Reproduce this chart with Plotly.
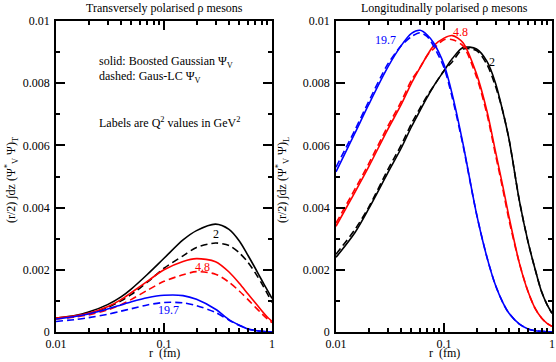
import plotly.graph_objects as go

# ---------------- data ----------------
r_T = [0.01, 0.015, 0.02, 0.03, 0.04, 0.05, 0.07, 0.1, 0.15, 0.2, 0.3, 0.4, 0.5, 0.6, 0.7, 0.8, 0.9, 1.0]

T_q2_solid = [0.00045, 0.00053, 0.00064, 0.00088, 0.00113, 0.00139, 0.00185, 0.00237, 0.00296, 0.00326,
              0.00347, 0.00330, 0.00292, 0.00246, 0.00205, 0.00168, 0.00136, 0.00108]
T_q2_dashed = [0.00043, 0.00050, 0.00059, 0.00079, 0.00100, 0.00121, 0.00160, 0.00205, 0.00245, 0.00272,
               0.00286, 0.00278, 0.00254, 0.00224, 0.00190, 0.00157, 0.00125, 0.00095]
T_q48_solid = [0.00045, 0.00052, 0.00060, 0.00081, 0.00104, 0.00127, 0.00163, 0.00200, 0.00227, 0.00236,
               0.00226, 0.00193, 0.00156, 0.00122, 0.00094, 0.00069, 0.00049, 0.00034]
T_q48_dashed = [0.00042, 0.00048, 0.00055, 0.00071, 0.00088, 0.00105, 0.00134, 0.00163, 0.00184, 0.00194,
                0.00186, 0.00160, 0.00131, 0.00104, 0.00080, 0.00060, 0.00043, 0.00030]
T_q197_solid = [0.00042, 0.00050, 0.00058, 0.00074, 0.00087, 0.00097, 0.00110, 0.00118, 0.00117, 0.00105,
                0.00073, 0.00040, 0.00022, 0.00010, 0.00005, 0.00002, 0.00001, 0.0]
T_q197_dashed = [0.00034, 0.00040, 0.00046, 0.00057, 0.00067, 0.00075, 0.00087, 0.00095, 0.00094, 0.00085,
                 0.00063, 0.00038, 0.00021, 0.00010, 0.00005, 0.00002, 0.00001, 0.0]

r_L = [0.01, 0.015, 0.02, 0.03, 0.04, 0.05, 0.06, 0.07, 0.08, 0.1, 0.12, 0.15, 0.2, 0.25, 0.3, 0.35,
       0.4, 0.5, 0.6, 0.7, 0.8, 0.9, 1.0]

L_q2_solid = [0.0024, 0.0032, 0.00395, 0.0051, 0.0059, 0.0066, 0.00712, 0.00755, 0.0079, 0.0084, 0.0088,
              0.00915, 0.0091, 0.0087, 0.0080, 0.0071, 0.0062, 0.0042, 0.0029, 0.0020, 0.0013, 0.00088, 0.0006]
L_q2_dashed = [0.0025, 0.0033, 0.0040, 0.0052, 0.0060, 0.0067, 0.0072, 0.0076, 0.0079, 0.0084, 0.0087,
               0.0091, 0.00905, 0.0086, 0.0079, 0.0071, 0.0062, 0.0042, 0.0029, 0.0020, 0.0013, 0.00088, 0.0006]
L_q48_solid = [0.0034, 0.0045, 0.0053, 0.0065, 0.0073, 0.0080, 0.0085, 0.0089, 0.0092, 0.00945, 0.00953,
               0.0093, 0.0083, 0.0071, 0.0058, 0.0047, 0.0037, 0.0022, 0.0013, 0.00075, 0.00045, 0.00028, 0.00018]
L_q48_dashed = [0.0035, 0.0046, 0.0054, 0.0066, 0.0074, 0.0081, 0.0085, 0.0089, 0.0091, 0.0094, 0.0094,
                0.0092, 0.0082, 0.0070, 0.0057, 0.0046, 0.0036, 0.0022, 0.0013, 0.00075, 0.00045, 0.00028, 0.00018]
L_q197_solid = [0.00515, 0.0064, 0.0073, 0.0085, 0.0092, 0.0096, 0.0097, 0.00955, 0.0093, 0.0086, 0.0076,
                0.00605, 0.0038, 0.0024, 0.0015, 0.00095, 0.0006, 0.00025, 0.0001, 0.00004, 0.00002, 0.00001, 0.0]
L_q197_dashed = [0.0053, 0.0065, 0.0074, 0.0086, 0.0092, 0.0095, 0.00962, 0.0095, 0.0092, 0.0085, 0.0075,
                 0.0060, 0.0038, 0.0024, 0.0015, 0.00095, 0.0006, 0.00025, 0.0001, 0.00004, 0.00002, 0.00001, 0.0]

x_tickvals = [0.01, 0.1, 1]
x_ticktext = ["0.01", "0.1", "1"]
x_minor = [0.02, 0.03, 0.04, 0.05, 0.06, 0.07, 0.08, 0.09, 0.2, 0.3, 0.4, 0.5, 0.6, 0.7, 0.8, 0.9]
y_tickvals = [0, 0.002, 0.004, 0.006, 0.008, 0.01]
y_ticktext = ["0", "0.002", "0.004", "0.006", "0.008", "0.01"]
y_minor = [0.001, 0.003, 0.005, 0.007, 0.009]

q2_labels = ["2", "4.8", "19.7"]
colors = ["black", "red", "blue"]

# ---------------- figure ----------------
FONT = "Liberation Serif, Times New Roman, serif"
W, H = 556, 362
fig = go.Figure()

T_solid = [T_q2_solid, T_q48_solid, T_q197_solid]
T_dash = [T_q2_dashed, T_q48_dashed, T_q197_dashed]
L_solid = [L_q2_solid, L_q48_solid, L_q197_solid]
L_dash = [L_q2_dashed, L_q48_dashed, L_q197_dashed]

for i, c in enumerate(colors):
    fig.add_trace(go.Scatter(x=r_T, y=T_dash[i], mode="lines", xaxis="x", yaxis="y",
                             line=dict(color=c, width=1.6, dash="7px,4px", shape="spline", smoothing=0.8)))
    fig.add_trace(go.Scatter(x=r_T, y=T_solid[i], mode="lines", xaxis="x", yaxis="y",
                             line=dict(color=c, width=1.6, shape="spline", smoothing=0.8)))
    fig.add_trace(go.Scatter(x=r_L, y=L_dash[i], mode="lines", xaxis="x2", yaxis="y2",
                             line=dict(color=c, width=1.6, dash="7px,4px", shape="spline", smoothing=0.8)))
    fig.add_trace(go.Scatter(x=r_L, y=L_solid[i], mode="lines", xaxis="x2", yaxis="y2",
                             line=dict(color=c, width=1.6, shape="spline", smoothing=0.8)))

def xax(domain, anchor):
    return dict(domain=domain, anchor=anchor, type="log", range=[-2, 0], automargin=False,
                tickvals=x_tickvals, ticktext=x_ticktext, ticks="inside", ticklen=9, tickwidth=1.5,
                tickcolor="black", showline=True, linecolor="black", linewidth=1.5, mirror="allticks",
                showgrid=False, zeroline=False,
                tickfont=dict(family=FONT, size=12, color="black"),
                minor=dict(tickvals=x_minor, ticks="inside", ticklen=4.5, tickwidth=1.5,
                           tickcolor="black", showgrid=False))

def yax(domain, anchor):
    return dict(domain=domain, anchor=anchor, range=[0, 0.01], automargin=False,
                tickvals=y_tickvals, ticktext=y_ticktext, ticks="inside", ticklen=9, tickwidth=1.5,
                tickcolor="black", showline=True, linecolor="black", linewidth=1.5, mirror="allticks",
                showgrid=False, zeroline=False, ticklabelstandoff=2,
                tickfont=dict(family=FONT, size=12, color="black"),
                minor=dict(tickvals=y_minor, ticks="inside", ticklen=4.5, tickwidth=1.5,
                           tickcolor="black", showgrid=False))

ydom = [1 - 332 / H, 1 - 21 / H]
fig.update_layout(
    template="none",
    width=W, height=H, margin=dict(l=0, r=0, t=0, b=0, pad=0, autoexpand=False),
    paper_bgcolor="white", plot_bgcolor="white", showlegend=False,
    font=dict(family=FONT, size=12, color="black"),
    xaxis=xax([56 / W, 272 / W], "y"),
    yaxis=yax(ydom, "x"),
    xaxis2=xax([336 / W, 552 / W], "y2"),
    yaxis2=yax(ydom, "x2"),
)

def px(xp, yp):
    return xp / W, 1 - yp / H

ann = []
def add_text(text, xp, yp, size=12, xanchor="center", angle=0, color="black", yanchor="middle"):
    x, y = px(xp, yp)
    ann.append(dict(text=text, x=x, y=y, xref="paper", yref="paper", xanchor=xanchor,
                    yanchor=yanchor, showarrow=False, textangle=angle,
                    font=dict(family=FONT, size=size, color=color)))

add_text("Transversely polarised ρ mesons", 164, 8)
add_text("Longitudinally polarised ρ mesons", 444, 8)
add_text("(r/2) ∫dz (Ψ<sup>*</sup><sub>V</sub> Ψ)<sub>T</sub>", 11, 180, angle=-90)
add_text("(r/2) ∫dz (Ψ<sup>*</sup><sub>V</sub> Ψ)<sub>L</sub>", 282, 180, angle=-90)
add_text("r\u00a0 (fm)", 164, 362, yanchor="bottom")
add_text("r\u00a0 (fm)", 444, 362, yanchor="bottom")
add_text("solid: Boosted Gaussian Ψ<sub>V</sub>", 97, 62, xanchor="left")
add_text("dashed: Gaus-LC Ψ<sub>V</sub>", 97, 77, xanchor="left")
add_text("Labels are Q<sup>2</sup> values in GeV<sup>2</sup>", 97, 122, xanchor="left")

# curve labels (data coordinates; x given as log10(r))
T_label_pos = [(-0.52, 0.00315), (-0.644, 0.00209), (-0.954, 0.00071)]
L_label_pos = [(-0.560, 0.00867), (-0.843, 0.00965), (-1.542, 0.00938)]
for i, c in enumerate(colors):
    ann.append(dict(text=q2_labels[i], x=T_label_pos[i][0], y=T_label_pos[i][1], xref="x", yref="y",
                    showarrow=False, font=dict(family=FONT, size=12, color=c)))
    ann.append(dict(text=q2_labels[i], x=L_label_pos[i][0], y=L_label_pos[i][1], xref="x2", yref="y2",
                    showarrow=False, font=dict(family=FONT, size=12, color=c)))

fig.update_layout(annotations=ann)
fig.write_html("out.html", config={"displayModeBar": False},
               post_script="document.body.style.margin='0px';")
